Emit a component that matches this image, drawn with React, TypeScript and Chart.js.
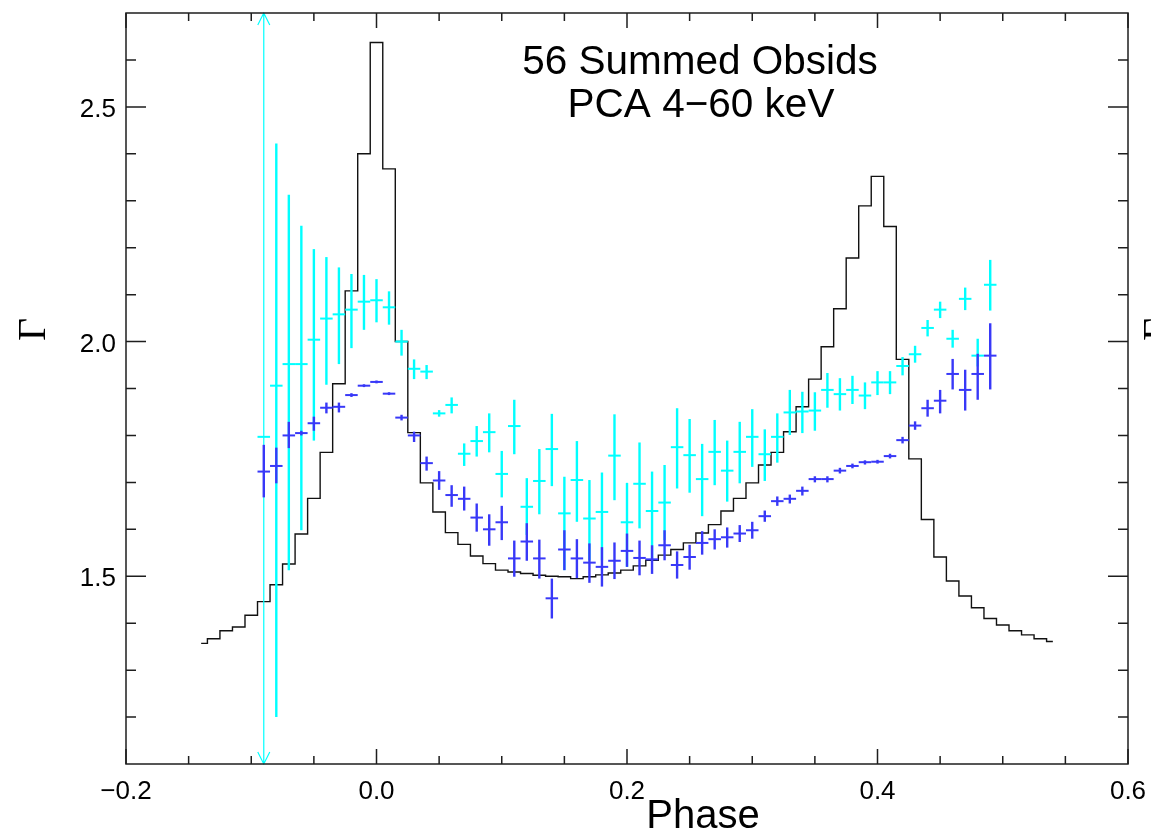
import React, { useEffect, useRef } from "react";
import { Chart, registerables } from "chart.js";

Chart.register(...registerables);

// ---------- axis ranges & ticks ----------
const xMin = -0.2;
const xMax = 0.6;
const yMin = 1.1;
const yMax = 2.7;
const xMajorTicks = [-0.2, 0.0, 0.2, 0.4, 0.6];
const xTickLabels = ["\u22120.2", "0.0", "0.2", "0.4", "0.6"];
const xMinorTicks = [-0.15, -0.1, -0.05, 0.05, 0.1, 0.15, 0.25, 0.3, 0.35, 0.45, 0.5, 0.55];
const yMajorTicks = [1.5, 2.0, 2.5];
const yTickLabels = ["1.5", "2.0", "2.5"];
const yMinorTicks = [1.2, 1.3, 1.4, 1.6, 1.7, 1.8, 1.9, 2.1, 2.2, 2.3, 2.4, 2.6];

const titleLines = ["56 Summed Obsids", "PCA 4\u221260 keV"];
const xTitle = "Phase";
const yTitle = "\u0393";

// ---------- pulse profile (histogram) ----------
const profilePhase = [
  -0.14, -0.13, -0.12, -0.11, -0.1, -0.09, -0.08, -0.07, -0.06, -0.05, -0.04, -0.03, -0.02, -0.01,
  0.0, 0.01, 0.02, 0.03, 0.04, 0.05, 0.06, 0.07, 0.08, 0.09, 0.1, 0.11, 0.12, 0.13, 0.14, 0.15,
  0.16, 0.17, 0.18, 0.19, 0.2, 0.21, 0.22, 0.23, 0.24, 0.25, 0.26, 0.27, 0.28, 0.29, 0.3, 0.31,
  0.32, 0.33, 0.34, 0.35, 0.36, 0.37, 0.38, 0.39, 0.4, 0.41, 0.42, 0.43, 0.44, 0.45, 0.46, 0.47,
  0.48, 0.49, 0.5, 0.51, 0.52, 0.53, 0.54,
];
const profileValue = [
  1.357, 1.367, 1.384, 1.392, 1.417, 1.446, 1.482, 1.526, 1.59, 1.666, 1.764, 1.91, 2.108, 2.4,
  2.637, 2.368, 2.0, 1.806, 1.699, 1.637, 1.593, 1.568, 1.543, 1.527, 1.513, 1.509, 1.506, 1.502,
  1.5, 1.499, 1.495, 1.499, 1.503, 1.507, 1.513, 1.522, 1.534, 1.545, 1.557, 1.571, 1.592, 1.61,
  1.639, 1.666, 1.699, 1.737, 1.764, 1.808, 1.861, 1.92, 1.989, 2.07, 2.178, 2.289, 2.352, 2.245,
  1.962, 1.75, 1.621, 1.541, 1.49, 1.458, 1.433, 1.41, 1.396, 1.384, 1.375, 1.367, 1.361,
];

// ---------- photon index points ----------
const binHalfWidth = 0.005;
const gammaPhase = [
  -0.09, -0.08, -0.07, -0.06, -0.05, -0.04, -0.03, -0.02, -0.01, 0.0, 0.01, 0.02, 0.03, 0.04,
  0.05, 0.06, 0.07, 0.08, 0.09, 0.1, 0.11, 0.12, 0.13, 0.14, 0.15, 0.16, 0.17, 0.18, 0.19, 0.2,
  0.21, 0.22, 0.23, 0.24, 0.25, 0.26, 0.27, 0.28, 0.29, 0.3, 0.31, 0.32, 0.33, 0.34, 0.35, 0.36,
  0.37, 0.38, 0.39, 0.4, 0.41, 0.42, 0.43, 0.44, 0.45, 0.46, 0.47, 0.48, 0.49,
];

// cyan series (null = error bar off scale, drawn with arrows)
const cyanValue = [
  1.797, 1.906, 1.952, 1.952, 2.004, 2.049, 2.058, 2.068, 2.085, 2.088, 2.073, 2.0, 1.942, 1.936,
  1.847, 1.865, 1.761, 1.788, 1.807, 1.718, 1.82, 1.648, 1.703, 1.771, 1.634, 1.705, 1.623, 1.637,
  1.757, 1.615, 1.697, 1.639, 1.657, 1.775, 1.758, 1.707, 1.765, 1.725, 1.765, 1.797, 1.76, 1.797,
  1.849, 1.851, 1.853, 1.897, 1.888, 1.897, 1.885, 1.913, 1.913, 1.948, 1.973, 2.029, 2.068, 2.006,
  2.091, 1.97, 2.121,
];
const cyanLow = [
  null, 1.2, 1.513, 1.598, 1.789, 1.908, 1.952, 1.986, 2.025, 2.041, 2.036, 1.97, 1.92, 1.92,
  1.84, 1.847, 1.735, 1.755, 1.764, 1.668, 1.76, 1.588, 1.632, 1.692, 1.513, 1.616, 1.534, 1.534,
  1.662, 1.52, 1.602, 1.534, 1.577, 1.687, 1.678, 1.628, 1.694, 1.659, 1.698, 1.733, 1.703, 1.742,
  1.801, 1.805, 1.81, 1.859, 1.853, 1.867, 1.856, 1.886, 1.888, 1.928, 1.955, 2.011, 2.05, 1.987,
  2.067, 1.947, 2.066,
];
const cyanHigh = [
  null, 2.422, 2.313, 2.247, 2.197, 2.18, 2.158, 2.144, 2.142, 2.133, 2.107, 2.025, 1.962, 1.95,
  1.854, 1.881, 1.783, 1.82, 1.847, 1.767, 1.876, 1.709, 1.771, 1.846, 1.712, 1.788, 1.705, 1.721,
  1.845, 1.699, 1.785, 1.723, 1.737, 1.858, 1.835, 1.782, 1.833, 1.789, 1.829, 1.856, 1.813, 1.847,
  1.897, 1.893, 1.892, 1.933, 1.922, 1.927, 1.913, 1.937, 1.937, 1.967, 1.991, 2.046, 2.085, 2.025,
  2.115, 2.006, 2.174,
];

// blue series
const blueValue = [
  1.723, 1.735, 1.8, 1.805, 1.826, 1.859, 1.861, 1.886, 1.906, 1.914, 1.889, 1.838, 1.8, 1.741,
  1.704, 1.673, 1.665, 1.625, 1.6, 1.615, 1.538, 1.574, 1.538, 1.453, 1.557, 1.538, 1.529, 1.52,
  1.533, 1.554, 1.539, 1.536, 1.566, 1.524, 1.541, 1.571, 1.579, 1.583, 1.591, 1.598, 1.628, 1.66,
  1.665, 1.682, 1.707, 1.707, 1.725, 1.735, 1.743, 1.744, 1.756, 1.79, 1.821, 1.858, 1.874, 1.931,
  1.897, 1.931, 1.97,
];
const blueLow = [
  1.668, 1.698, 1.773, 1.8, 1.81, 1.847, 1.849, 1.882, 1.903, 1.911, 1.886, 1.832, 1.786, 1.725,
  1.684, 1.648, 1.64, 1.595, 1.565, 1.577, 1.499, 1.533, 1.495, 1.41, 1.513, 1.496, 1.486, 1.478,
  1.494, 1.52, 1.502, 1.505, 1.534, 1.495, 1.514, 1.546, 1.557, 1.561, 1.573, 1.58, 1.616, 1.65,
  1.655, 1.672, 1.7, 1.7, 1.719, 1.73, 1.738, 1.74, 1.751, 1.783, 1.812, 1.84, 1.847, 1.898,
  1.853, 1.876, 1.898,
];
const blueHigh = [
  1.78, 1.774, 1.829, 1.81, 1.84, 1.87, 1.87, 1.89, 1.909, 1.917, 1.892, 1.844, 1.808, 1.755,
  1.724, 1.694, 1.691, 1.655, 1.632, 1.65, 1.576, 1.613, 1.578, 1.495, 1.598, 1.579, 1.57, 1.562,
  1.572, 1.591, 1.576, 1.566, 1.598, 1.553, 1.567, 1.596, 1.6, 1.604, 1.609, 1.616, 1.64, 1.67,
  1.674, 1.691, 1.713, 1.713, 1.731, 1.74, 1.747, 1.748, 1.761, 1.797, 1.83, 1.876, 1.897, 1.963,
  1.94, 1.974, 2.039,
];

const CYAN = "#00ffff";
const BLUE = "#3838f8";
const FRAME = "#1e1e1e";
const SANS = '"Liberation Sans", Arial, Helvetica, sans-serif';
const SERIF = '"Liberation Serif", "DejaVu Serif", serif';

const errorBarPlugin = {
  id: "errorBars",
  afterDatasetsDraw(chart: any) {
    const ctx = chart.ctx;
    const xs = chart.scales.x;
    const ys = chart.scales.y;
    const area = chart.chartArea;
    chart.data.datasets.forEach((ds: any) => {
      if (!ds.errLow) return;
      ctx.save();
      ctx.strokeStyle = ds.errColor;
      ctx.lineCap = "butt";
      ds.data.forEach((pt: any, j: number) => {
        const px = xs.getPixelForValue(pt.x);
        const py = ys.getPixelForValue(pt.y);
        const lo = ds.errLow[j];
        const hi = ds.errHigh[j];
        ctx.lineWidth = 2;
        ctx.beginPath();
        ctx.moveTo(xs.getPixelForValue(pt.x - binHalfWidth), py);
        ctx.lineTo(xs.getPixelForValue(pt.x + binHalfWidth), py);
        ctx.stroke();
        if (lo === null || hi === null) {
          ctx.lineWidth = 1.2;
          ctx.beginPath();
          ctx.moveTo(px, area.top);
          ctx.lineTo(px, area.bottom);
          ctx.moveTo(px - 6, area.top + 12);
          ctx.lineTo(px, area.top);
          ctx.lineTo(px + 6, area.top + 12);
          ctx.moveTo(px - 6, area.bottom - 12);
          ctx.lineTo(px, area.bottom);
          ctx.lineTo(px + 6, area.bottom - 12);
          ctx.stroke();
        } else {
          ctx.lineWidth = 2.4;
          ctx.beginPath();
          ctx.moveTo(px, ys.getPixelForValue(lo));
          ctx.lineTo(px, ys.getPixelForValue(hi));
          ctx.stroke();
        }
      });
      ctx.restore();
    });
  },
};

const framePlugin = {
  id: "idlFrame",
  afterDraw(chart: any) {
    const ctx = chart.ctx;
    const xs = chart.scales.x;
    const ys = chart.scales.y;
    const a = chart.chartArea;
    ctx.save();
    ctx.strokeStyle = FRAME;
    ctx.lineWidth = 1.5;
    ctx.strokeRect(a.left, a.top, a.right - a.left, a.bottom - a.top);
    ctx.beginPath();
    xMajorTicks.forEach((v) => {
      const px = xs.getPixelForValue(v);
      ctx.moveTo(px, a.bottom);
      ctx.lineTo(px, a.bottom - 15);
      ctx.moveTo(px, a.top);
      ctx.lineTo(px, a.top + 15);
    });
    xMinorTicks.forEach((v) => {
      const px = xs.getPixelForValue(v);
      ctx.moveTo(px, a.bottom);
      ctx.lineTo(px, a.bottom - 8);
      ctx.moveTo(px, a.top);
      ctx.lineTo(px, a.top + 8);
    });
    yMajorTicks.forEach((v) => {
      const py = ys.getPixelForValue(v);
      ctx.moveTo(a.left, py);
      ctx.lineTo(a.left + 20, py);
      ctx.moveTo(a.right, py);
      ctx.lineTo(a.right - 20, py);
    });
    yMinorTicks.forEach((v) => {
      const py = ys.getPixelForValue(v);
      ctx.moveTo(a.left, py);
      ctx.lineTo(a.left + 10, py);
      ctx.moveTo(a.right, py);
      ctx.lineTo(a.right - 10, py);
    });
    ctx.stroke();

    ctx.fillStyle = "#000";
    ctx.font = `26px ${SANS}`;
    ctx.textAlign = "center";
    ctx.textBaseline = "alphabetic";
    xMajorTicks.forEach((v, i) => {
      ctx.fillText(xTickLabels[i], xs.getPixelForValue(v), a.bottom + 35);
    });
    ctx.textAlign = "right";
    yMajorTicks.forEach((v, i) => {
      ctx.fillText(yTickLabels[i], a.left - 10, ys.getPixelForValue(v) + 10);
    });

    ctx.textAlign = "center";
    ctx.font = `40px ${SANS}`;
    ctx.fillText(xTitle, 703, 828);
    ctx.font = `40.5px ${SANS}`;
    ctx.fillText(titleLines[0], 700, 74);
    ctx.fillText(titleLines[1], 701, 117);

    ctx.font = `40px ${SERIF}`;
    ctx.textAlign = "left";
    [45, 1170].forEach((x) => {
      ctx.save();
      ctx.translate(x, 341);
      ctx.rotate(-Math.PI / 2);
      ctx.fillText(yTitle, 0, 0);
      ctx.restore();
    });
    ctx.restore();
  },
};

export default function App() {
  const ref = useRef<HTMLCanvasElement | null>(null);
  useEffect(() => {
    document.body.style.margin = "0";
    const profileData = profilePhase.map((x, i) => ({ x, y: profileValue[i] }));
    const cyanData = gammaPhase.map((x, i) => ({ x, y: cyanValue[i] }));
    const blueData = gammaPhase.map((x, i) => ({ x, y: blueValue[i] }));
    const chart = new Chart(ref.current as HTMLCanvasElement, {
      type: "scatter",
      data: {
        datasets: [
          {
            label: "profile",
            data: profileData,
            showLine: true,
            stepped: "middle",
            borderColor: "#111",
            borderWidth: 1.4,
            pointRadius: 0,
            fill: false,
          } as any,
          {
            label: "cyan",
            data: cyanData,
            showLine: false,
            pointRadius: 0,
            errLow: cyanLow,
            errHigh: cyanHigh,
            errColor: CYAN,
          } as any,
          {
            label: "blue",
            data: blueData,
            showLine: false,
            pointRadius: 0,
            errLow: blueLow,
            errHigh: blueHigh,
            errColor: BLUE,
          } as any,
        ],
      },
      options: {
        animation: false,
        responsive: false,
        devicePixelRatio: 1,
        layout: { padding: { left: 126, right: 23, top: 13, bottom: 74 } },
        plugins: { legend: { display: false }, tooltip: { enabled: false }, title: { display: false } },
        scales: {
          x: { type: "linear", min: xMin, max: xMax, display: false },
          y: { type: "linear", min: yMin, max: yMax, display: false },
        },
      },
      plugins: [errorBarPlugin, framePlugin],
    });
    return () => chart.destroy();
  }, []);
  return (
    <div style={{ position: "absolute", left: 0, top: 0, width: 1151, height: 838, background: "#fff" }}>
      <canvas ref={ref} width={1151} height={838} style={{ display: "block", width: 1151, height: 838 }} />
    </div>
  );
}
